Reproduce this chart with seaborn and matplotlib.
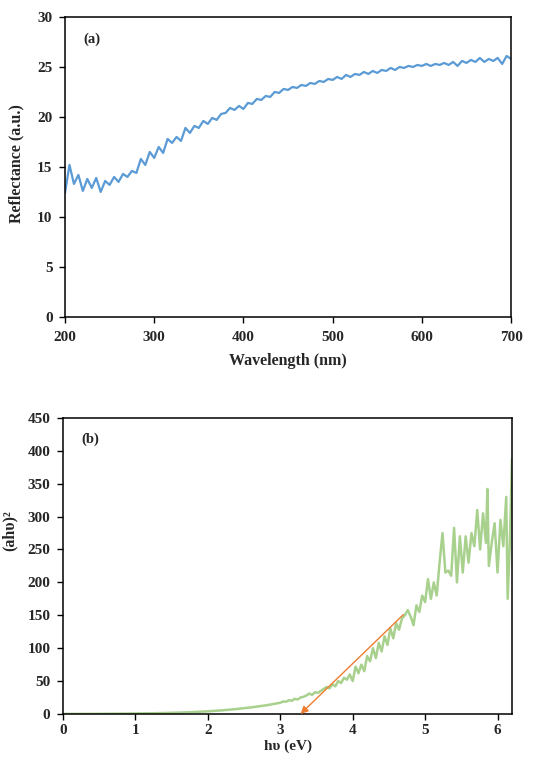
import matplotlib
matplotlib.use("Agg")
import matplotlib.pyplot as plt
import numpy as np
import seaborn as sns

# ---- (a) reflectance spectrum, every 5 nm ----
wavelength = np.arange(200, 701, 5)
reflectance = [
    12.4, 15.2, 13.3, 14.2, 12.6, 13.8, 12.9, 13.9, 12.5, 13.6,
    13.2, 14.0, 13.5, 14.3, 14.0, 14.6, 14.4, 15.8, 15.2, 16.5,
    15.9, 17.0, 16.4, 17.8, 17.4, 18.0, 17.6, 18.9, 18.4, 19.1,
    18.9, 19.6, 19.3, 19.9, 19.7, 20.3, 20.4, 20.9, 20.7, 21.1,
    20.8, 21.4, 21.3, 21.8, 21.7, 22.1, 22.0, 22.5, 22.4, 22.8,
    22.7, 23.0, 22.9, 23.2, 23.1, 23.4, 23.3, 23.6, 23.5, 23.8,
    23.7, 24.0, 23.8, 24.2, 24.0, 24.3, 24.2, 24.5, 24.3, 24.6,
    24.4, 24.7, 24.6, 24.9, 24.7, 25.0, 24.9, 25.1, 25.0, 25.2,
    25.1, 25.3, 25.1, 25.3, 25.2, 25.4, 25.2, 25.5, 25.1, 25.6,
    25.4, 25.7, 25.5, 25.9, 25.5, 25.8, 25.6, 25.9, 25.3, 26.1,
    25.8,
]

# ---- (b) Tauc plot ----
hv = [
    0.0, 0.25, 0.5, 0.75, 1.0, 1.25, 1.5, 1.75, 2.0, 2.2, 2.4, 2.6, 2.8, 2.9,
    3.00, 3.04, 3.08, 3.12, 3.16, 3.20, 3.24, 3.28, 3.32, 3.36,
    3.40, 3.44, 3.48, 3.52, 3.56, 3.60, 3.64, 3.68, 3.72, 3.76,
    3.80, 3.84, 3.88, 3.92, 3.96, 4.00, 4.04, 4.08, 4.12, 4.16,
    4.20, 4.24, 4.28, 4.32, 4.36, 4.40, 4.44, 4.48, 4.52, 4.56,
    4.60, 4.64, 4.68, 4.72, 4.76, 4.80, 4.84, 4.88, 4.92, 4.96,
    5.00, 5.04, 5.08, 5.12, 5.16, 5.20, 5.24, 5.28, 5.32, 5.36,
    5.40, 5.44, 5.48, 5.52, 5.56, 5.60, 5.64, 5.68, 5.72, 5.76,
    5.80, 5.84, 5.86, 5.88, 5.92, 5.96, 6.00, 6.04, 6.08, 6.12,
    6.14, 6.17, 6.20,
]
ahv2 = [
    0.0, 0.1, 0.2, 0.4, 0.7, 1.1, 1.7, 2.6, 4.0, 5.5, 7.5, 10, 13, 15,
    17, 19, 18.5, 21, 20, 23, 22, 25, 26, 28,
    31, 29, 33, 32, 35, 38, 41, 39, 45, 42,
    50, 47, 55, 52, 60, 50, 72, 62, 75, 65,
    88, 80, 100, 85, 108, 95, 118, 105, 130, 115,
    138, 128, 145, 150, 158, 148, 135, 165, 155, 180,
    170, 205, 175, 200, 180, 230, 275, 215, 218, 210,
    283, 200, 270, 215, 270, 230, 275, 255, 310, 250,
    305, 260, 342, 225, 260, 290, 215, 295, 255, 330,
    175, 260, 388,
]

# tangent line used for the band gap
tangent_start = (4.70, 151)
tangent_end = (3.28, 0)

sns.set_style("white")
plt.rcParams['font.family'] = ['Liberation Serif', 'DejaVu Serif']
plt.rcParams['font.weight'] = 'bold'
plt.rcParams['axes.labelweight'] = 'bold'

fig = plt.figure(figsize=(5.44, 7.6), dpi=100)
ax1 = fig.add_axes([0.1195, 0.583, 0.820, 0.3947])
ax2 = fig.add_axes([0.1158, 0.0606, 0.8254, 0.3895])

sns.lineplot(x=wavelength, y=reflectance, ax=ax1, color="#5B9BD5",
             linewidth=1.6, estimator=None)
sns.lineplot(x=hv, y=ahv2, ax=ax2, color="#A9D18E",
             linewidth=1.8, estimator=None)
ax2.annotate("", xy=tangent_end, xytext=tangent_start,
             arrowprops=dict(arrowstyle="-|>", color="#ED7D31", lw=1,
                             mutation_scale=11, shrinkA=0, shrinkB=0))

ax1.set_xlim(200, 700)
ax1.set_ylim(0, 30)
ax1.set_xticks([200, 300, 400, 500, 600, 700])
ax1.set_yticks([0, 5, 10, 15, 20, 25, 30])
ax1.set_xlabel("Wavelength (nm)", fontsize=11.5)
ax1.set_ylabel("Reflectance (a.u.)", fontsize=11.5)
ax1.xaxis.set_label_coords(0.5, -0.12)
ax1.yaxis.set_label_coords(-0.092, 0.51)
ax1.text(0.042, 0.915, "(a)", transform=ax1.transAxes, fontsize=10.5,
         fontweight="bold")

ax2.set_xlim(0, 6.2)
ax2.set_ylim(0, 450)
ax2.set_xticks([0, 1, 2, 3, 4, 5, 6])
ax2.set_yticks(range(0, 451, 50))
ax2.set_xlabel("hυ (eV)", fontsize=11)
ax2.set_ylabel("(ahυ)²", fontsize=11.5)
ax2.xaxis.set_label_coords(0.5, -0.085)
ax2.yaxis.set_label_coords(-0.1, 0.62)
ax2.text(0.04, 0.915, "(b)", transform=ax2.transAxes, fontsize=10.5,
         fontweight="bold")

for ax in (ax1, ax2):
    for sp in ax.spines.values():
        sp.set_color("black")
        sp.set_linewidth(1.1)
    ax.tick_params(axis="both", direction="out", length=4, width=1,
                   color="black", labelsize=11, bottom=True, left=True)
    ax.tick_params(axis="y", pad=5)
    for lab in ax.get_xticklabels() + ax.get_yticklabels():
        lab.set_fontweight("bold")
ax1.tick_params(axis="x", pad=6)
ax2.tick_params(axis="x", pad=3)

fig.savefig("out.png", dpi=100)
